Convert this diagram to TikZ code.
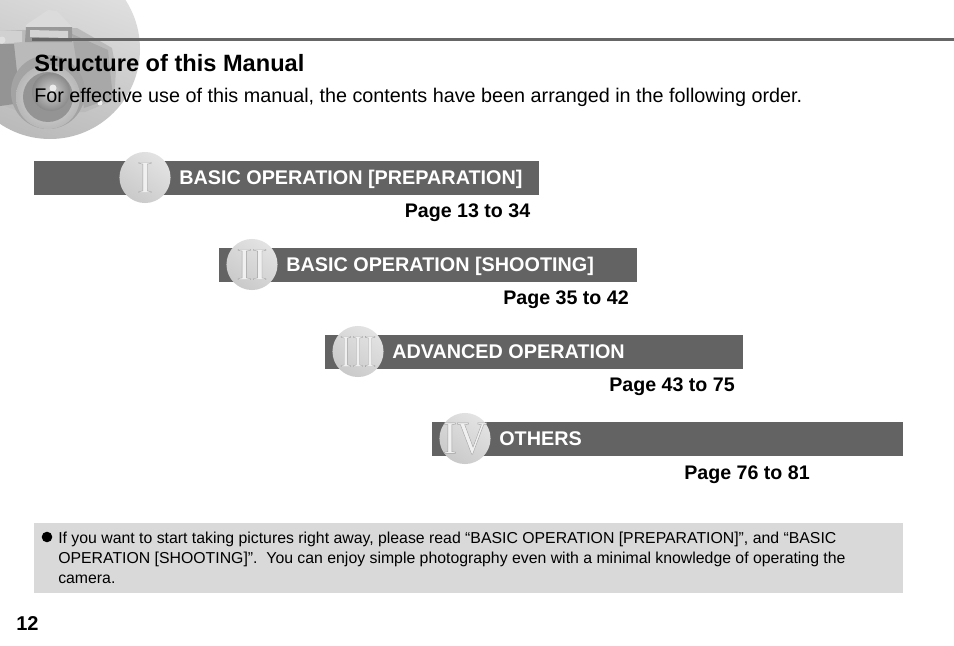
\documentclass[tikz,border=0pt]{standalone}
\usepackage{fontspec}
\setmainfont{Liberation Sans}
\newfontfamily\numfont{Liberation Serif}
\usetikzlibrary{shadings}
\definecolor{barcol}{HTML}{636363}
\definecolor{rulecol}{HTML}{666666}
\definecolor{notecol}{HTML}{D9D9D9}
\newcommand{\numeral}[1]{\special{pdf:code q 2 Tr 0.3 w 0.62 G 0.94 g}#1\special{pdf:code Q}}
\tikzset{
  bartext/.style={anchor=base west,inner sep=0pt,text=white,font=\fontsize{14.85}{16}\bfseries},
  pagetext/.style={anchor=base east,inner sep=0pt,font=\fontsize{14.72}{16}\bfseries},
  notetext/.style={anchor=base west,inner sep=0pt,font=\fontsize{11.87}{14}\selectfont},
  numnode/.style={inner sep=0pt,font=\numfont\fontsize{35}{35}\selectfont},
  disc/.style={circle,inner sep=0pt,minimum size=38.3pt,left color=gray!22,right color=gray!42,shading angle=-35,draw=none}
}
\begin{document}
\begin{tikzpicture}[x=0.75pt,y=-0.75pt]
\useasboundingbox (0,0) rectangle (954,646);
% emblem with the camera
\begin{scope}
\clip (0,0) rectangle (954,646);
\clip (50,49) circle (90);
\shade[left color=black!11,right color=black!27,shading angle=-20] (50,49) circle (90);
% body
\fill[black!27] (0,31) -- (22,30) -- (77,28) -- (112,48) -- (116,70) -- (114,100) -- (85,112) -- (20,112) -- (0,104) -- cycle;
\fill[black!34] (72,34) -- (108,50) -- (113,98) -- (84,108) -- cycle;
\fill[black!18] (0,31) -- (22,31) -- (22,42) -- (0,44) -- cycle;
\fill[black!42] (0,44) -- (14,44) -- (17,72) -- (14,104) -- (0,106) -- cycle;
\fill[black!12] (2,40) circle (3.5);
% prism and finder
\fill[black!14] (26,25) -- (48,10) -- (57,11) -- (72,27) -- (72,31) -- (26,31) -- cycle;
\fill[black!40] (26,27) -- (72,27) -- (72,42) -- (25,42) -- cycle;
\fill[black!17] (30,30) -- (68,31) -- (68,38) -- (30,37) -- cycle;
% lens
\fill[black!36] (48,92) circle (37);
\shade[inner color=black!12,outer color=black!28] (48,97) circle (32);
\fill[black!42] (48,97) circle (25);
\shade[inner color=black!18,outer color=black!46] (51,92) circle (19);
\fill[black!8] (53,88) circle (3.5);
\fill[black!8] (100,103) circle (2.5);
\end{scope}
% top rule
\fill[rulecol] (32,37.5) rectangle (954,40.5);
\node[anchor=base west,inner sep=0pt,font=\fontsize{17.7}{20}\bfseries] (title) at (34,71) {Structure of this Manual};
\node[anchor=base west,inner sep=0pt,font=\fontsize{14.83}{18}\selectfont] (intro) at (34,102) {For effective use of this manual, the contents have been arranged in the following order.};
% bars
\fill[barcol] (34,161) rectangle (539,195);
\fill[barcol] (219,248) rectangle (637,282);
\fill[barcol] (325,335) rectangle (743,369);
\fill[barcol] (432,422) rectangle (903,456);
% discs and numerals
\node[disc] (d1) at (145,177.5) {};
\node[disc] (d2) at (252,264.5) {};
\node[disc] (d3) at (358,351.5) {};
\node[disc] (d4) at (465,438.5) {};
\node[numnode] (n1) at (145,177.5) {\numeral{I}};
\node[numnode] (n2) at (252,264.5) {\numeral{II}};
\node[numnode,xscale=.78,transform shape] (n3) at (358,351.5) {\numeral{III}};
\node[numnode,xscale=.9,transform shape] (n4) at (465,438.5) {\numeral{IV}};
% bar labels
\node[bartext] (b1) at (179,184) {BASIC OPERATION [PREPARATION]};
\node[bartext] (b2) at (286,271) {BASIC OPERATION [SHOOTING]};
\node[bartext] (b3) at (392,358) {ADVANCED OPERATION};
\node[bartext] (b4) at (499,445) {OTHERS};
% page labels
\node[pagetext] (p1) at (530.5,217) {Page 13 to 34};
\node[pagetext] (p2) at (629,304) {Page 35 to 42};
\node[pagetext] (p3) at (735,391) {Page 43 to 75};
\node[pagetext] (p4) at (810,479) {Page 76 to 81};
% note
\fill[notecol] (34,523) rectangle (903,593);
\fill[black] (47,537) circle (5.3);
\node[notetext] (l1) at (58,543) {If you want to start taking pictures right away, please read “BASIC OPERATION [PREPARATION]”, and “BASIC};
\node[notetext] (l2) at (58,563) {OPERATION [SHOOTING]”.\ \ You can enjoy simple photography even with a minimal knowledge of operating the};
\node[notetext] (l3) at (58,583) {camera.};
\node[anchor=base west,inner sep=0pt,font=\fontsize{15}{16}\bfseries] (pg) at (16,630) {12};
\end{tikzpicture}
\end{document}
